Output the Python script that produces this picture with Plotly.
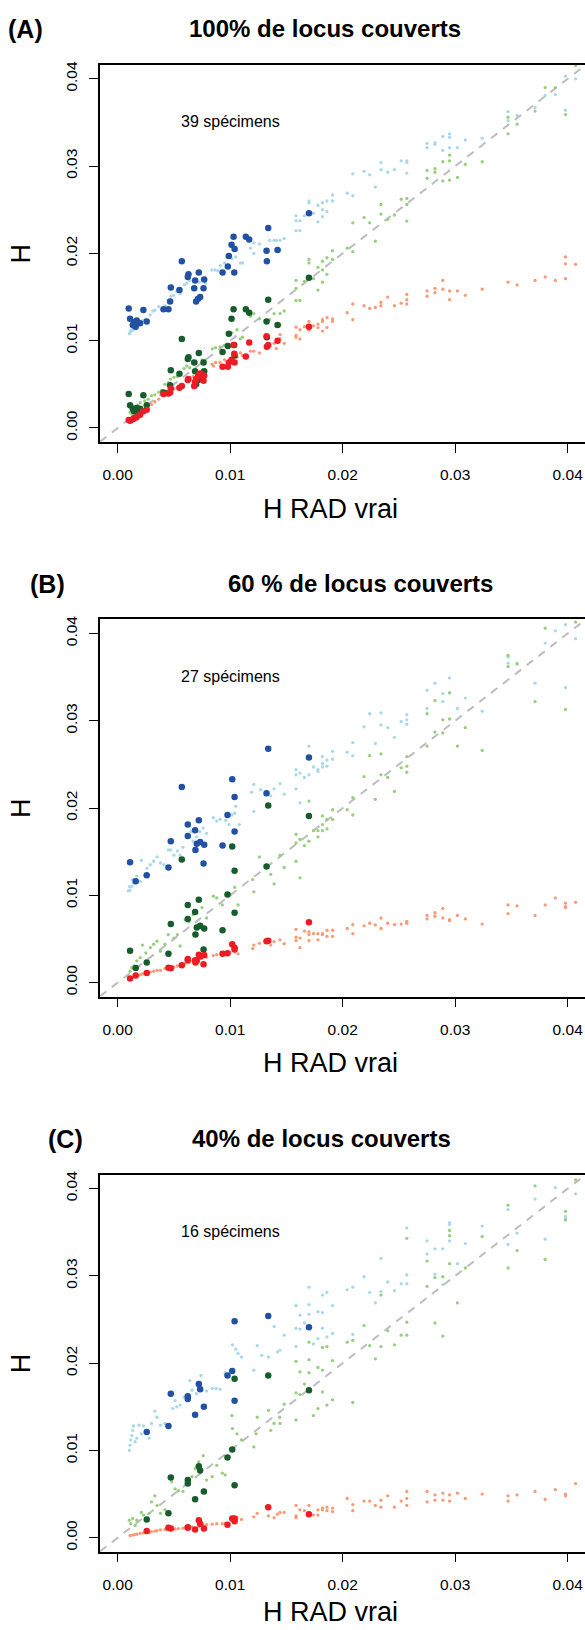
import numpy as np
import plotly.graph_objects as go

# All H values below are in units of 1e-3 (per mille)
SCALE = 1e-3

# ---------------- Panel A : 100% of loci covered ----------------
A_spec_x = [0.98, 1.10, 1.34, 1.45, 1.60, 1.69, 1.99, 2.28, 2.58, 4.07,
            4.51, 4.66, 4.72, 5.49, 5.70, 6.23, 6.29, 6.80, 6.88, 6.97,
            7.15, 7.21, 7.33, 7.63, 7.69, 9.32, 9.79, 9.88, 10.12, 10.30,
            10.36, 10.39, 11.39, 11.69, 13.23, 13.26, 13.38, 14.21, 17.0]
A_spec_blue = [13.7, 12.5, 11.8, 12.1, 11.6, 12.3, 12.0, 13.5, 12.2, 13.6,
               13.6, 14.5, 16.1, 15.8, 19.1, 17.3, 17.6, 16.0, 16.9, 14.5,
               14.8, 17.8, 15.0, 16.0, 17.0, 17.8, 18.5, 19.7, 21.0, 21.9,
               17.8, 20.5, 21.9, 21.6, 20.3, 19.1, 22.9, 20.4, 24.6]
A_spec_green = [3.9, 2.6, 2.2, 1.9, 2.0, 2.3, 2.2, 3.75, 2.6, 4.05,
                4.0, 4.9, 6.6, 6.2, 10.2, 7.9, 8.1, 7.5, 6.5, 5.0,
                5.5, 8.6, 5.9, 7.5, 6.5, 8.7, 9.4, 10.8, 12.5, 13.6,
                9.5, 8.3, 13.6, 13.2, 12.2, 10.4, 14.7, 11.8, 17.2]
A_spec_red = [0.9, 0.83, 1.0, 1.1, 1.2, 1.25, 1.5, 1.9, 2.1, 3.9,
              3.95, 4.05, 4.5, 4.6, 4.8, 5.5, 5.6, 4.8, 5.3, 5.6,
              5.9, 6.1, 6.25, 5.4, 6.0, 7.0, 7.0, 7.5, 7.8, 9.5,
              8.5, 7.5, 8.2, 9.8, 10.5, 9.3, 9.5, 10.0, 11.6]

A_sim_blue = [(1.04, 10.8), (1.10, 11.0), (1.16, 11.1), (1.25, 11.3), (1.35, 11.2), (1.45, 11.6),
              (1.55, 11.4), (1.69, 11.8), (1.99, 12.1), (2.20, 12.3), (2.43, 12.4), (2.88, 12.95),
              (3.12, 13.4), (3.32, 13.5), (3.65, 13.9), (4.21, 14.0), (4.51, 14.6), (4.72, 15.1),
              (4.96, 15.2), (5.25, 15.6), (5.55, 15.4), (5.91, 16.4), (6.14, 16.6), (6.38, 16.9),
              (6.74, 16.2), (7.03, 17.0), (7.27, 16.7), (7.51, 17.1), (7.80, 16.6), (8.37, 18.1),
              (8.66, 18.1), (8.90, 18.0), (9.11, 18.6), (9.50, 18.9), (9.70, 19.6), (10.15, 19.4),
              (10.50, 19.6), (10.60, 20.4), (10.90, 18.9), (11.10, 18.9), (11.80, 20.6), (12.10, 20.0),
              (12.10, 21.2), (12.60, 21.1), (13.50, 21.5), (13.90, 21.5), (14.10, 21.5),
              (14.43, 21.5), (14.8, 21.7), (14.43, 20.4), (15.85, 24.3), (15.85, 23.75), (15.85, 22.6),
              (16.2, 23.75), (16.2, 22.6), (16.6, 24.3), (17.0, 26.0), (17.0, 25.8), (17.4, 24.6),
              (17.8, 25.5), (17.8, 23.6), (18.2, 25.8), (18.2, 25.0), (18.2, 24.2), (18.6, 26.0),
              (18.6, 24.8), (19.1, 26.7), (19.1, 26.0), (20.4, 26.9), (20.9, 29.1), (20.9, 26.6),
              (21.9, 29.4), (22.4, 29.0), (22.9, 27.6), (23.4, 30.4), (23.4, 29.6), (24.0, 29.3),
              (24.6, 29.6), (25.2, 30.6), (25.7, 30.6), (25.7, 30.4), (25.7, 29.2), (27.5, 32.6),
              (27.5, 32.1), (28.2, 32.7), (28.2, 32.5), (28.9, 33.4), (28.9, 31.8), (29.5, 33.7),
              (29.5, 33.3), (29.5, 32.1), (30.2, 32.1), (30.9, 33.0), (32.4, 33.2), (34.7, 36.25),
              (34.7, 35.2), (35.5, 35.8), (37.1, 36.7), (38.0, 38.1), (38.9, 38.2), (39.8, 40.3),
              (39.8, 36.4), (40.7, 40.0)]
A_sim_green = [(1.1, 1.8), (1.25, 1.6), (1.4, 2.2), (1.5, 2.4), (1.6, 2.0), (1.8, 2.6), (2.0, 2.9),
               (2.4, 3.1), (2.7, 3.3), (3.0, 3.7), (3.3, 3.8), (3.65, 4.1), (3.9, 4.3), (4.2, 5.0),
               (4.5, 5.2), (4.7, 5.6), (5.0, 5.8), (5.3, 5.9), (5.6, 6.3), (5.9, 6.8), (6.14, 7.1),
               (6.4, 6.9), (6.7, 7.65), (7.0, 7.5), (7.5, 7.8), (7.8, 7.8), (8.4, 9.05), (8.7, 9.2),
               (9.1, 9.3), (9.5, 9.5), (10.15, 10.9), (10.6, 11.25), (10.9, 10.2), (11.1, 10.4),
               (11.8, 12.8), (12.1, 13.1), (12.6, 12.5), (13.5, 12.4), (13.9, 13.1),
               (14.43, 13.1), (14.8, 13.4), (14.43, 11.8), (15.85, 16.9), (15.85, 16.0), (15.85, 14.6),
               (16.2, 14.6), (16.6, 16.8), (17.0, 19.3), (17.0, 18.9), (17.4, 17.1), (17.8, 18.4),
               (17.8, 15.8), (18.2, 19.1), (18.2, 18.1), (18.2, 16.7), (18.6, 19.5), (18.6, 17.6),
               (19.1, 20.3), (19.1, 19.3), (20.4, 20.6), (20.9, 23.5), (20.9, 20.2), (21.9, 24.1),
               (22.4, 23.5), (22.9, 21.4), (23.4, 25.6), (23.4, 24.5), (24.0, 23.9), (24.6, 24.4),
               (25.2, 26.2), (25.7, 26.3), (25.7, 25.6), (25.7, 23.7), (27.5, 29.5), (27.5, 28.6),
               (28.2, 29.7), (28.2, 29.3), (28.9, 30.5), (28.9, 28.3), (29.5, 31.25), (29.5, 30.6),
               (29.5, 28.4), (30.2, 28.7), (30.9, 30.2), (32.4, 30.5), (34.7, 35.6), (34.7, 33.7),
               (35.5, 34.8), (37.1, 36.3), (38.0, 39.0), (38.9, 39.0), (39.8, 35.9), (40.7, 41.5)]
A_sim_red = [(1.1, 0.9), (1.3, 1.0), (1.6, 1.3), (2.0, 1.7), (2.4, 2.1), (3.0, 2.7), (3.3, 3.0),
             (3.65, 3.3), (4.2, 3.8), (4.7, 4.2), (5.0, 4.5), (5.3, 4.6), (6.1, 5.4), (6.4, 5.6),
             (6.7, 5.9), (7.0, 6.3), (7.5, 6.5), (7.8, 6.6), (8.4, 7.3), (8.5, 7.1), (8.7, 7.5),
             (9.1, 7.5), (9.5, 7.8), (10.15, 8.0), (10.6, 8.1), (10.9, 8.6), (11.1, 8.3), (11.8, 8.8),
             (12.1, 8.8), (12.6, 8.6), (13.5, 9.3), (13.9, 9.7), (14.1, 9.1), (14.4, 10.2),
             (14.43, 10.2), (14.8, 9.7), (14.43, 10.7), (15.85, 11.55), (15.85, 10.6), (15.85, 10.4),
             (16.2, 11.25), (16.2, 10.2), (16.6, 11.6), (17.0, 12.2), (17.0, 11.2), (17.4, 11.7),
             (17.8, 11.9), (17.8, 11.5), (18.2, 12.4), (18.2, 12.2), (18.2, 11.1), (18.6, 12.65),
             (18.6, 11.5), (19.1, 12.5), (19.1, 12.2), (20.4, 13.2), (20.9, 14.2), (20.9, 12.4),
             (21.9, 14.0), (22.4, 13.7), (22.9, 13.8), (23.4, 14.4), (23.4, 14.0), (24.0, 15.0),
             (24.6, 14.0), (25.2, 14.3), (25.7, 15.3), (25.7, 14.7), (25.7, 14.2), (27.5, 15.7),
             (27.5, 15.1), (28.2, 16.0), (28.2, 15.5), (28.9, 16.9), (28.9, 15.9), (29.5, 15.7),
             (29.5, 14.7), (30.2, 15.7), (30.9, 15.2), (32.4, 15.9), (34.7, 16.7), (35.5, 16.4),
             (37.1, 16.9), (38.0, 17.3), (38.9, 16.9), (39.8, 19.6), (39.8, 18.8), (39.8, 17.1),
             (40.7, 18.75)]

# ---------------- Panel B : 60% of loci covered ----------------
B_spec_x = [1.10, 1.60, 2.58, 4.51, 4.72, 5.70, 6.23, 6.23, 6.88, 7.21, 6.91, 7.03,
            7.33, 7.69, 7.63, 9.32, 9.76, 10.18, 10.39, 10.39, 13.38, 13.23, 17.0]
B_spec_blue = [13.8, 11.6, 12.3, 13.2, 16.2, 22.4, 16.8, 18.1, 17.45, 18.6, 15.2, 15.9,
               16.1, 15.8, 13.65, 15.7, 19.2, 23.3, 21.25, 17.3, 26.8, 21.7, 25.8]
B_spec_green = [3.65, 1.67, 2.3, 3.3, 6.7, 14.1, 8.9, 7.3, 8.1, 9.5, 5.5, 6.3,
                6.5, 6.2, 3.8, 6.0, 10.1, 15.6, 12.8, 8.0, 20.3, 13.3, 19.1]
B_spec_red = [0.46, 0.8, 1.1, 1.7, 1.65, 2.0, 2.7, 2.55, 2.55, 3.2, 2.3, 2.5,
              3.0, 3.15, 2.1, 3.3, 3.35, 4.4, 4.0, 3.8, 4.8, 4.75, 6.9]

B_sim_blue = [(0.95, 10.5), (1.04, 11.0), (1.1, 10.6), (1.25, 11.0), (1.3, 11.8), (1.4, 11.4),
              (1.55, 11.6), (1.7, 12.2), (2.0, 11.6), (2.1, 14.0), (2.4, 12.3), (2.6, 13.1),
              (2.9, 13.5), (3.2, 13.9), (3.5, 14.4), (3.8, 13.7), (4.1, 13.5), (4.5, 15.2),
              (4.7, 15.2), (5.0, 14.6), (5.3, 15.1), (5.55, 14.6), (5.8, 15.5), (6.1, 16.7),
              (6.5, 17.3), (6.7, 16.2), (7.0, 16.7), (7.3, 17.3), (7.6, 17.7), (7.9, 17.1),
              (8.5, 18.9), (8.8, 18.5), (9.1, 18.7), (9.6, 18.6), (9.9, 18.1), (10.15, 19.2),
              (10.4, 19.4), (10.5, 20.2), (10.8, 18.1), (11.9, 21.8), (12.1, 19.6), (12.1, 22.7),
              (12.7, 22.1), (13.6, 21.4), (13.9, 22.2),
              (14.43, 22.8), (14.8, 21.6), (15.85, 24.4), (15.85, 23.8), (15.85, 22.2), (16.2, 24.0),
              (16.2, 20.6), (16.6, 23.5), (17.0, 27.1), (17.0, 23.8), (17.4, 24.7), (17.8, 24.4),
              (17.8, 24.2), (18.2, 25.9), (18.2, 25.1), (18.2, 24.7), (18.6, 25.5), (18.6, 24.8),
              (19.1, 26.5), (19.1, 25.6), (20.4, 26.4), (20.9, 27.5), (20.9, 26.0), (21.9, 29.3),
              (22.4, 30.8), (22.9, 27.4), (23.4, 30.9), (23.4, 29.5), (24.0, 29.2), (24.6, 28.1),
              (25.2, 29.9), (25.7, 30.7), (25.7, 30.1), (25.7, 29.6), (27.5, 33.5), (27.5, 31.4),
              (28.2, 34.3), (28.9, 33.1), (28.9, 32.2), (29.5, 34.9), (29.5, 33.2), (30.2, 31.4),
              (30.9, 32.6), (32.4, 31.1), (34.7, 37.3), (34.7, 36.6), (35.5, 36.6), (37.1, 34.3),
              (38.0, 38.9), (38.9, 40.3), (39.8, 41.0), (39.8, 33.8), (40.7, 39.4)]
B_sim_green = [(1.1, 1.3), (1.25, 1.7), (1.45, 1.9), (1.7, 2.5), (2.0, 2.85), (2.2, 4.3), (2.5, 3.4),
               (2.9, 4.0), (3.2, 4.4), (3.5, 4.75), (3.8, 3.6), (4.2, 4.4), (4.5, 5.5), (5.0, 5.1),
               (5.3, 5.5), (5.55, 4.2), (6.0, 7.2), (6.3, 7.0), (6.7, 7.8), (7.0, 6.5), (7.5, 8.6),
               (7.9, 7.4), (8.5, 9.9), (8.8, 9.7), (9.3, 8.9), (10.0, 10.1), (10.7, 8.9), (10.4, 10.9),
               (12.0, 11.8), (12.1, 10.4), (12.6, 14.4), (13.6, 12.4), (13.9, 11.3),
               (14.43, 14.6), (14.8, 13.2), (15.85, 17.0), (15.85, 16.0), (15.85, 13.9), (16.2, 16.4),
               (16.2, 12.0), (16.6, 15.7), (17.0, 20.8), (17.0, 16.2), (17.4, 17.4), (17.8, 17.4),
               (17.8, 16.7), (18.2, 19.1), (18.2, 18.1), (18.2, 17.4), (18.6, 18.7), (18.6, 17.6),
               (19.1, 19.8), (19.1, 18.7), (20.4, 19.8), (20.9, 21.2), (20.9, 19.2), (21.9, 23.6),
               (22.4, 26.0), (22.9, 21.0), (23.4, 26.2), (23.4, 23.8), (24.0, 23.5), (24.6, 21.9),
               (25.2, 24.6), (25.7, 25.9), (25.7, 24.8), (25.7, 24.1), (27.5, 30.8), (27.5, 27.1),
               (28.2, 32.3), (28.2, 28.7), (28.9, 30.1), (28.9, 28.6), (29.5, 33.2), (29.5, 30.2),
               (30.2, 27.1), (30.9, 29.2), (32.4, 26.6), (34.7, 37.5), (34.7, 36.2), (35.5, 36.5),
               (37.1, 32.2), (38.0, 40.6), (39.8, 31.3), (40.7, 41.3)]
B_sim_red = [(1.1, 0.5), (1.3, 0.6), (1.5, 0.75), (1.7, 0.8), (2.0, 0.9), (2.2, 1.0), (2.5, 1.0),
             (2.9, 1.2), (3.2, 1.3), (3.5, 1.4), (3.8, 1.4), (4.2, 1.6), (4.5, 1.7), (5.0, 1.8),
             (5.3, 1.9), (5.55, 2.0), (6.0, 2.2), (6.3, 2.3), (6.7, 2.45), (7.0, 2.6), (7.5, 2.8),
             (7.9, 2.9), (8.5, 3.1), (8.8, 3.2), (9.3, 3.4), (10.0, 3.5), (10.4, 3.6), (10.7, 3.3),
             (12.0, 3.9), (12.1, 4.3), (12.6, 4.5), (13.6, 4.3), (13.9, 4.7),
             (14.43, 4.9), (14.8, 4.45), (15.85, 6.1), (15.85, 5.2), (15.85, 4.8), (16.2, 5.1),
             (16.2, 4.0), (16.6, 5.9), (17.0, 5.8), (17.0, 5.5), (17.0, 4.8), (17.4, 5.6),
             (17.8, 5.6), (17.8, 4.9), (18.2, 5.6), (18.2, 5.5), (18.6, 6.0), (18.6, 5.3),
             (19.1, 6.0), (19.1, 5.3), (20.4, 6.2), (20.9, 6.65), (20.9, 5.6), (21.9, 6.5),
             (22.4, 6.8), (22.9, 6.6), (23.4, 7.4), (23.4, 6.2), (24.0, 6.8), (24.6, 6.65),
             (25.2, 6.7), (25.7, 7.0), (25.7, 6.8), (27.5, 7.7), (27.5, 7.3), (28.2, 8.0),
             (28.2, 7.6), (28.9, 8.5), (28.9, 7.4), (29.5, 7.2), (29.5, 7.1), (30.2, 7.7),
             (30.9, 7.3), (32.4, 6.7), (34.7, 8.9), (34.7, 7.9), (35.5, 8.8), (37.1, 7.7),
             (38.0, 8.9), (38.9, 9.7), (39.8, 9.1), (39.8, 8.7), (39.8, 8.6), (40.7, 9.2)]

# ---------------- Panel C : 40% of loci covered ----------------
C_spec_x = [2.58, 4.51, 4.72, 6.23, 6.23, 6.88, 7.21, 7.33, 7.66, 9.76, 10.18, 10.39, 10.39, 13.38, 17.0]
C_spec_blue = [12.1, 12.8, 16.5, 16.2, 15.9, 14.1, 17.6, 17.0, 15.0, 18.6, 19.1, 24.8, 15.7, 25.4, 24.1]
C_spec_green = [2.1, 2.8, 6.9, 6.6, 6.2, 4.4, 8.2, 7.7, 5.3, 9.2, 10.1, 18.2, 6.0, 18.6, 16.9]
C_spec_red = [0.76, 1.14, 1.07, 1.14, 1.2, 0.95, 2.0, 1.6, 1.07, 1.5, 2.2, 1.9, 2.2, 3.5, 2.7]

C_sim_blue = [(1.04, 10.0), (1.1, 10.6), (1.16, 11.2), (1.25, 11.7), (1.34, 12.3), (1.4, 12.8),
              (1.55, 11.0), (1.7, 11.4), (1.9, 12.9), (2.1, 11.9), (2.3, 12.8), (2.8, 11.4),
              (3.0, 13.1), (3.3, 14.5), (3.5, 13.8), (3.8, 12.9), (4.2, 13.1), (4.9, 14.8),
              (5.1, 15.7), (5.25, 15.0), (5.55, 15.2), (5.9, 16.1), (6.4, 18.0), (6.6, 16.9),
              (7.0, 16.5), (7.4, 18.6), (7.9, 16.8), (8.4, 17.1), (8.75, 17.1), (9.1, 17.0),
              (9.55, 18.9), (10.0, 19.2), (10.2, 22.1), (10.5, 21.6), (10.7, 21.1), (11.0, 20.7),
              (12.1, 19.2), (12.4, 22.0), (12.8, 20.9), (13.4, 20.7), (13.9, 24.2), (14.2, 21.3),
              (14.43, 21.5), (14.8, 23.2), (15.85, 26.6), (15.85, 24.0), (15.85, 21.9), (16.2, 25.5),
              (16.2, 23.9), (16.6, 24.6), (17.0, 28.7), (17.0, 26.7), (17.0, 25.6), (17.4, 22.2),
              (17.8, 25.9), (17.8, 22.8), (18.2, 27.8), (18.2, 25.8), (18.2, 24.0), (18.6, 28.1),
              (18.6, 23.0), (19.1, 26.6), (19.1, 23.4), (20.4, 28.4), (20.9, 28.7), (20.9, 23.3),
              (21.9, 29.9), (22.4, 28.1), (22.9, 26.9), (23.4, 32.0), (23.4, 28.2), (24.0, 29.3),
              (24.6, 28.3), (25.2, 29.1), (25.7, 35.5), (25.7, 30.1), (25.7, 29.1), (27.5, 34.0),
              (27.5, 32.5), (28.2, 33.1), (28.2, 30.2), (28.9, 33.1), (28.9, 29.0), (29.5, 36.1),
              (29.5, 35.9), (29.5, 34.0), (30.2, 31.4), (30.9, 33.7), (32.4, 35.7), (34.7, 37.6),
              (34.7, 33.6), (35.5, 34.9), (37.1, 38.8), (38.0, 34.2), (38.9, 40.1), (39.8, 36.8),
              (39.8, 36.5), (40.7, 39.4)]
C_sim_green = [(1.04, 2.0), (1.16, 1.6), (1.34, 2.2), (1.55, 1.4), (1.7, 2.0), (2.1, 2.9), (2.3, 2.6),
               (2.8, 2.8), (3.0, 4.1), (3.3, 4.8), (3.5, 3.7), (3.8, 2.8), (4.2, 3.2), (4.8, 6.4),
               (5.1, 5.6), (5.4, 5.4), (5.8, 5.3), (6.4, 6.6), (6.6, 7.0), (6.9, 7.9), (7.2, 8.7),
               (7.6, 9.4), (7.9, 6.6), (8.4, 7.0), (8.8, 8.3), (9.3, 7.4), (9.55, 7.2), (10.15, 14.0),
               (10.2, 12.5), (10.6, 11.9), (11.0, 11.2), (12.1, 10.4), (12.3, 11.9), (12.4, 13.8),
               (13.4, 14.6), (13.6, 12.3), (13.9, 13.1), (14.4, 13.8),
               (14.43, 13.1), (14.8, 15.3), (15.85, 20.2), (15.85, 16.6), (15.85, 13.5), (16.2, 19.0),
               (16.2, 16.4), (16.6, 17.6), (17.0, 22.4), (17.0, 20.4), (17.0, 18.9), (17.4, 14.0),
               (17.8, 19.5), (17.8, 14.8), (18.2, 21.8), (18.2, 19.2), (18.2, 16.7), (18.6, 21.9),
               (18.6, 15.2), (19.1, 20.3), (19.1, 15.8), (20.4, 22.4), (20.9, 22.6), (20.9, 15.5),
               (21.9, 24.3), (22.4, 22.0), (22.9, 20.5), (23.4, 27.8), (23.4, 21.9), (24.0, 23.7),
               (24.6, 22.1), (25.2, 23.2), (25.7, 34.3), (25.7, 24.7), (25.7, 23.2), (27.5, 31.7),
               (27.5, 28.8), (28.2, 29.8), (28.2, 24.6), (28.9, 29.9), (28.9, 23.1), (29.5, 35.2),
               (29.5, 34.6), (29.5, 31.4), (30.2, 26.9), (30.9, 30.9), (32.4, 34.5), (34.7, 38.1),
               (34.7, 30.9), (35.5, 32.9), (37.1, 40.3), (38.0, 31.9), (39.8, 37.4), (39.8, 36.4),
               (40.7, 41.0)]
C_sim_red = [(1.1, 0.25), (1.3, 0.3), (1.5, 0.35), (1.7, 0.4), (2.0, 0.5), (2.3, 0.55), (2.8, 0.6),
             (3.0, 0.7), (3.3, 0.75), (3.5, 0.8), (3.8, 0.9), (4.2, 0.95), (4.8, 1.0), (5.1, 1.0),
             (5.4, 1.05), (5.8, 1.1), (6.4, 1.2), (6.6, 1.25), (7.2, 1.3), (7.6, 1.4), (7.9, 1.5),
             (8.4, 1.55), (8.8, 1.6), (9.3, 1.6), (9.55, 1.65), (10.15, 2.0), (10.6, 2.3), (11.0, 2.1),
             (12.1, 2.4), (12.4, 2.8), (13.4, 2.5), (13.9, 2.3), (14.2, 2.7),
             (14.43, 2.9), (14.8, 2.9), (15.85, 3.7), (15.85, 2.5), (15.85, 2.3), (16.2, 3.2),
             (16.6, 3.1), (17.0, 3.7), (17.0, 2.7), (17.4, 2.6), (17.8, 3.2), (17.8, 2.6),
             (18.2, 3.4), (18.2, 3.2), (18.6, 3.5), (18.6, 3.1), (19.1, 3.4), (19.1, 3.0),
             (20.4, 4.5), (20.9, 3.8), (20.9, 3.1), (21.9, 4.2), (22.4, 4.2), (22.9, 3.7),
             (23.4, 4.3), (23.4, 3.5), (24.0, 4.8), (24.6, 3.5), (25.2, 4.2), (25.7, 5.3),
             (25.7, 4.5), (25.7, 3.7), (27.5, 5.3), (27.5, 4.1), (28.2, 4.9), (28.2, 4.3),
             (28.9, 5.1), (28.9, 4.3), (29.5, 4.9), (29.5, 4.2), (30.2, 5.1), (30.9, 4.5),
             (32.4, 5.0), (34.7, 4.8), (34.7, 4.2), (35.5, 4.9), (37.1, 5.3), (38.0, 4.4),
             (38.9, 5.5), (39.8, 5.0), (39.8, 4.8), (40.7, 6.2)]

panel_letters = ["(A)", "(B)", "(C)"]
panel_titles = ["100% de locus couverts", "60 % de locus couverts", "40% de locus couverts"]
panel_counts = ["39 spécimens", "27 spécimens", "16 spécimens"]
tick_values = [0.00, 0.01, 0.02, 0.03, 0.04]
tick_labels = ["0.00", "0.01", "0.02", "0.03", "0.04"]

# colours
LIGHT_BLUE, DARK_BLUE = "#a9d8ea", "#2251a3"
LIGHT_GREEN, DARK_GREEN = "#98cf7f", "#175c2c"
SALMON, RED = "#fb9a76", "#ec1c24"

# page geometry (pixels)
W, H = 585, 1630
PLOT_LEFT = 100
PANEL_TOPS = [61, 617, 1173.5]
PANEL_H = 378
LETTER_X = [25, 47, 65]
TITLE_X = [325, 360, 321]
XTITLE_GAP = [67, 67, 60]
FONT = "Liberation Sans, Arial, sans-serif"

# axis ranges: zero sits 17.7 px right of the left border, 0.01 = 112.5 px
X_PX_PER_UNIT = 1125.0 / 0.1
x_lo = -17.7 / X_PX_PER_UNIT
x_hi = x_lo + (W - PLOT_LEFT) / X_PX_PER_UNIT
y_lo, y_hi = -0.0016, 0.0416

panels = [
    (A_spec_x, A_spec_blue, A_spec_green, A_spec_red, A_sim_blue, A_sim_green, A_sim_red),
    (B_spec_x, B_spec_blue, B_spec_green, B_spec_red, B_sim_blue, B_sim_green, B_sim_red),
    (C_spec_x, C_spec_blue, C_spec_green, C_spec_red, C_sim_blue, C_sim_green, C_sim_red),
]

fig = go.Figure()
annotations = []


def add_text(text, x, y, size, bold=False, angle=0):
    annotations.append(dict(text=f"<b>{text}</b>" if bold else text,
                            x=x / W, y=1 - y / H, xref="paper", yref="paper",
                            xanchor="center", yanchor="middle", showarrow=False,
                            textangle=angle,
                            font=dict(family=FONT, size=size, color="black")))


for i, (sx, sb, sg, sr, lb, lg, lr) in enumerate(panels):
    suffix = "" if i == 0 else str(i + 1)
    xa, ya = "x" + suffix, "y" + suffix

    # identity line
    fig.add_trace(go.Scatter(x=[x_lo, x_hi], y=[x_lo, x_hi], mode="lines",
                             line=dict(color="#bdbdbd", width=2, dash="8px,7px"),
                             xaxis=xa, yaxis=ya, hoverinfo="skip", showlegend=False))

    # small points first, large points on top
    for pts, col in [(lb, LIGHT_BLUE), (lg, LIGHT_GREEN), (lr, SALMON)]:
        arr = np.array(pts) * SCALE
        fig.add_trace(go.Scatter(x=arr[:, 0], y=arr[:, 1], mode="markers",
                                 marker=dict(color=col, size=3.3, line=dict(width=0)),
                                 xaxis=xa, yaxis=ya, showlegend=False))
    xs = np.array(sx) * SCALE
    for ys, col in [(sb, DARK_BLUE), (sg, DARK_GREEN), (sr, RED)]:
        fig.add_trace(go.Scatter(x=xs, y=np.array(ys) * SCALE, mode="markers",
                                 marker=dict(color=col, size=6.5, line=dict(width=0)),
                                 xaxis=xa, yaxis=ya, showlegend=False))

    top = PANEL_TOPS[i]
    bottom = top + PANEL_H
    axis_common = dict(showgrid=False, zeroline=False, showline=True, linecolor="black",
                       linewidth=1.5, ticks="outside", ticklen=9, tickwidth=1.3,
                       tickcolor="black", tickvals=tick_values, ticktext=tick_labels,
                       tickfont=dict(family=FONT, size=15.5, color="black"))
    fig.update_layout(**{
        "xaxis" + suffix: dict(domain=[PLOT_LEFT / W, 1.0], range=[x_lo, x_hi],
                               anchor=ya, mirror=True, ticklabelstandoff=9, **axis_common),
        "yaxis" + suffix: dict(domain=[1 - bottom / H, 1 - top / H], range=[y_lo, y_hi],
                               anchor=xa, tickangle=-90, ticklabelstandoff=6, **axis_common),
    })

    add_text(panel_letters[i], LETTER_X[i], top - 36, 25, bold=True)
    add_text(panel_titles[i], TITLE_X[i], top - 36, 24, bold=True)
    add_text(panel_counts[i], 230, top + 57, 16)
    add_text("H RAD vrai", 330, bottom + XTITLE_GAP[i], 27)
    add_text("H", 21, (top + bottom) / 2, 27, angle=-90)

fig.update_layout(width=W, height=H, margin=dict(l=0, r=0, t=0, b=0),
                  plot_bgcolor="white", paper_bgcolor="white",
                  annotations=annotations, showlegend=False)

fig.write_html("out.html")
